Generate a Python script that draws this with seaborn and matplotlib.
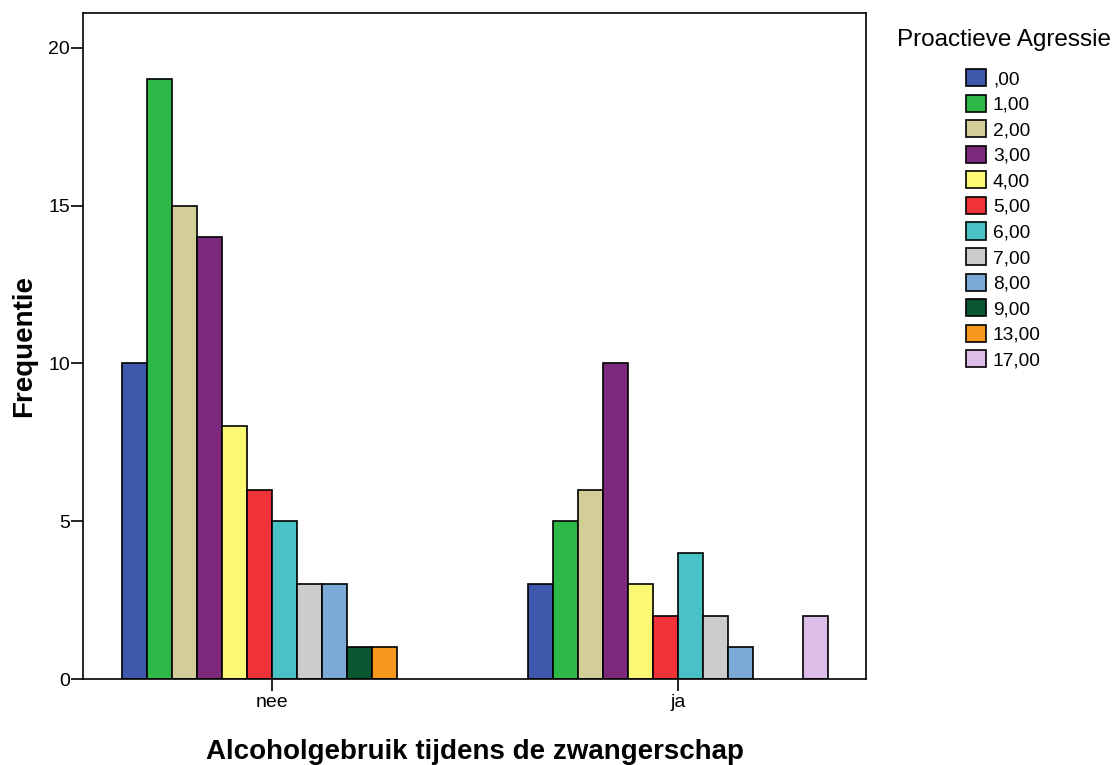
import pandas as pd
import seaborn as sns
import matplotlib.pyplot as plt
from matplotlib.patches import Patch

# Counts per group
groups = ["nee", "ja"]
levels = [",00", "1,00", "2,00", "3,00", "4,00", "5,00", "6,00", "7,00", "8,00", "9,00", "13,00", "17,00"]
nee_counts = [10, 19, 15, 14, 8, 6, 5, 3, 3, 1, 1, 0]
ja_counts = [3, 5, 6, 10, 3, 2, 4, 2, 1, 0, 0, 2]
colors = ["#3e58ac", "#2eb848", "#d3ce97", "#7b287d", "#fbf873", "#ef3338",
          "#48c2c5", "#cccccc", "#7aaad5", "#0a5732", "#f8981d", "#dcbde7"]

df = pd.DataFrame({
    "Alcohol": ["nee"] * len(levels) + ["ja"] * len(levels),
    "Agressie": levels * 2,
    "Frequentie": nee_counts + ja_counts,
})

sns.set_style("white")
plt.rcParams["font.family"] = ["Liberation Sans", "DejaVu Sans"]
plt.rcParams["text.color"] = "black"
plt.rcParams["axes.labelcolor"] = "black"

fig = plt.figure(figsize=(11.17, 7.65), dpi=100)
ax = fig.add_axes([0.0743, 0.1124, 0.701, 0.8706])

sns.barplot(data=df, x="Alcohol", y="Frequentie", hue="Agressie",
            order=groups, hue_order=levels, palette=colors, saturation=1,
            width=0.739, gap=0, edgecolor="black", linewidth=1.2,
            legend=False, ax=ax)

# empty categories should not leave an outline on the baseline
for p in ax.patches:
    if p.get_height() == 0:
        p.set_visible(False)

ax.set_xlim(-0.466, 1.463)
ax.set_ylim(0, 21.1)
ax.set_yticks([0, 5, 10, 15, 20])
ax.tick_params(axis="both", direction="out", length=8.5, width=1.2,
               colors="black", labelsize=14, left=True, bottom=True)
ax.tick_params(axis="x", pad=2.5)
ax.tick_params(axis="y", pad=1)
for s in ax.spines.values():
    s.set_visible(True)
    s.set_color("black")
    s.set_linewidth(1.2)

ax.set_xlabel("Alcoholgebruik tijdens de zwangerschap", fontsize=20,
              fontweight="bold", labelpad=20)
ax.set_ylabel("Frequentie", fontsize=20, fontweight="bold", labelpad=8)

# legend title drawn on its own, SPSS puts more room under it
fig.text(897 / 1117, 1 - 40 / 765, "Proactieve Agressie", fontsize=17.5,
         ha="left", va="center")
handles = [Patch(facecolor=c, edgecolor="black", linewidth=1.2) for c in colors]
leg = fig.legend(handles, levels, loc="upper left",
                 bbox_to_anchor=(966 / 1117, 1 - 69 / 765), frameon=False,
                 fontsize=13.8, borderpad=0, borderaxespad=0,
                 handlelength=1.04, handleheight=1.0,
                 handletextpad=0.36, labelspacing=0.335)

fig.savefig("out.png", dpi=100)
